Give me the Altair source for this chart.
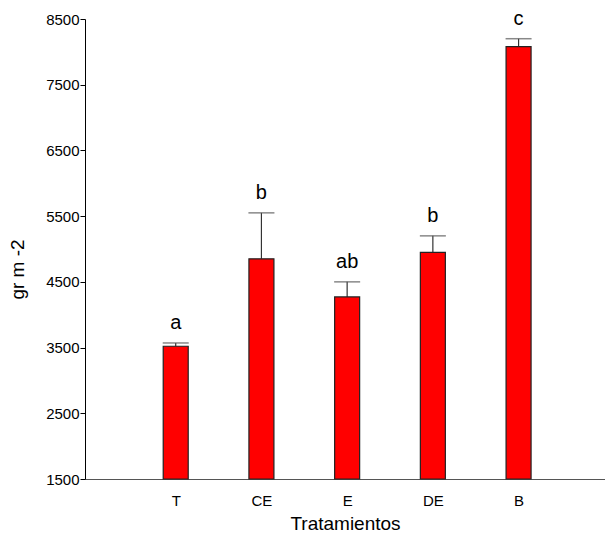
import altair as alt
import pandas as pd

# Treatment means, standard errors and significance letters
treatments = ["T", "CE", "E", "DE", "B"]
positions = [1, 2, 3, 4, 5]
means = [3520, 4850, 4270, 4950, 8080]
errors = [50, 700, 230, 250, 120]
letters = ["a", "b", "ab", "b", "c"]

df = pd.DataFrame({
    "trat": treatments,
    "pos": positions,
    "mean": means,
    "err": errors,
    "letter": letters,
})
df["upper"] = df["mean"] + df["err"]

FONT = "Liberation Sans"

x_scale = alt.Scale(domain=[0, 5.95], nice=False, zero=False)
y_scale = alt.Scale(domain=[1500, 8500], nice=False, zero=False)

x_axis = alt.Axis(
    title="Tratamientos",
    values=positions,
    labelExpr="['', 'T', 'CE', 'E', 'DE', 'B'][datum.value]",
    ticks=False,
    grid=False,
    labelFont=FONT,
    labelFontSize=15,
    labelColor="black",
    labelPadding=14,
    titleFont=FONT,
    titleFontSize=19,
    titleFontWeight="normal",
    titleColor="black",
    titlePadding=6,
    domainColor="#555555",
)

y_axis = alt.Axis(
    title="gr m -2",
    values=[1500, 2500, 3500, 4500, 5500, 6500, 7500, 8500],
    format="d",
    grid=False,
    tickSize=5,
    tickColor="black",
    domainColor="black",
    labelFont=FONT,
    labelFontSize=15,
    labelColor="black",
    labelPadding=1,
    titleFont=FONT,
    titleFontSize=19,
    titleFontWeight="normal",
    titleColor="black",
    titlePadding=18,
    titleY=250,
)

base = alt.Chart(df)

bars = base.mark_bar(
    size=25, color="#ff0000", stroke="#222222", strokeWidth=1.2
).encode(
    x=alt.X("pos:Q", scale=x_scale, axis=x_axis),
    y=alt.Y("mean:Q", scale=y_scale, axis=y_axis),
    y2=alt.datum(1500),
)

err_line = base.mark_rule(color="#333333", strokeWidth=1.2).encode(
    x="pos:Q",
    y="mean:Q",
    y2="upper:Q",
)

caps = base.mark_tick(
    orient="horizontal", size=26, thickness=1.5, color="#555555"
).encode(
    x="pos:Q",
    y="upper:Q",
)

labels = base.mark_text(
    font=FONT, fontSize=20, color="black", dy=-10, baseline="bottom"
).encode(
    x="pos:Q",
    y="upper:Q",
    text="letter:N",
)

chart = (
    alt.layer(err_line, bars, caps, labels)
    .properties(
        width=520,
        height=460,
        padding={"left": 85, "top": 19, "right": 0, "bottom": 55},
        autosize=alt.AutoSizeParams(type="none"),
        background="white",
    )
    .configure_view(stroke=None)
)

chart.save("out.html", embed_options={"renderer": "svg", "actions": False})
